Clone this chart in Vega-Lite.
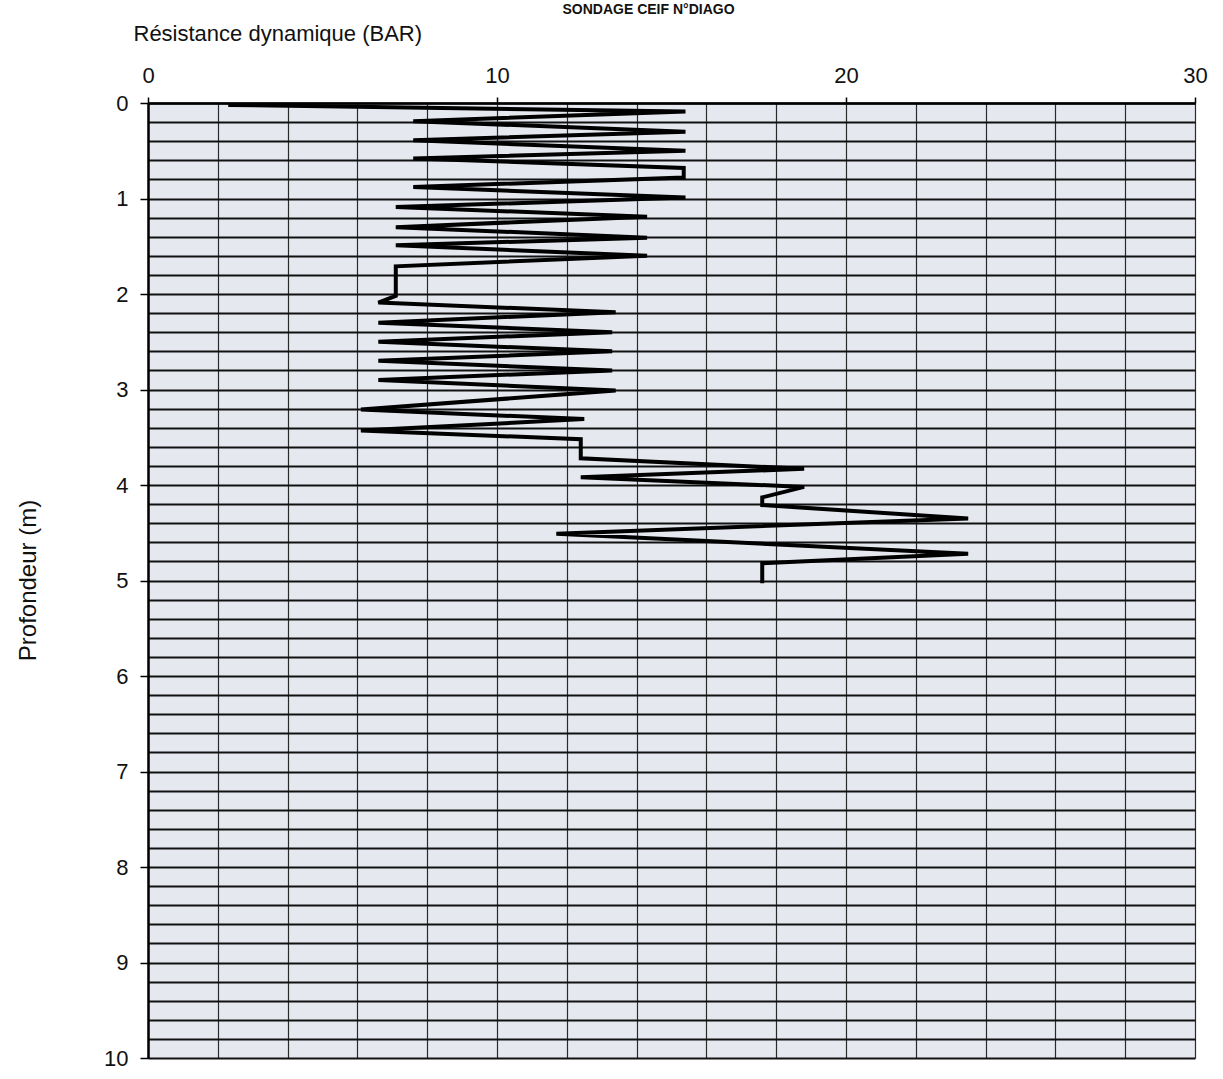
{
  "$schema": "https://vega.github.io/schema/vega-lite/v6.json",
  "width": 1047,
  "height": 955,
  "autosize": {"type": "none"},
  "padding": {"left": 148, "top": 103, "right": 28, "bottom": 21},
  "background": "white",
  "title": {
    "text": "SONDAGE CEIF N°DIAGO",
    "frame": "group",
    "anchor": "middle",
    "offset": 6,
    "baseline": "alphabetic",
    "dx": -23,
    "dy": 12,
    "fontSize": 14,
    "font": "Liberation Sans",
    "fontWeight": "bold",
    "color": "#111"
  },
  "config": {
    "view": {"fill": "#e6e8ef", "stroke": null}
  },
  "data": {
    "values": [
      {"n": 1, "depth": 0.02, "resistance": 2.3},
      {"n": 2, "depth": 0.09, "resistance": 15.4},
      {"n": 3, "depth": 0.19, "resistance": 7.6},
      {"n": 4, "depth": 0.30, "resistance": 15.4},
      {"n": 5, "depth": 0.39, "resistance": 7.6},
      {"n": 6, "depth": 0.50, "resistance": 15.4},
      {"n": 7, "depth": 0.58, "resistance": 7.6},
      {"n": 8, "depth": 0.68, "resistance": 15.35},
      {"n": 9, "depth": 0.78, "resistance": 15.35},
      {"n": 10, "depth": 0.88, "resistance": 7.6},
      {"n": 11, "depth": 0.99, "resistance": 15.4},
      {"n": 12, "depth": 1.09, "resistance": 7.1},
      {"n": 13, "depth": 1.19, "resistance": 14.3},
      {"n": 14, "depth": 1.30, "resistance": 7.1},
      {"n": 15, "depth": 1.41, "resistance": 14.3},
      {"n": 16, "depth": 1.49, "resistance": 7.1},
      {"n": 17, "depth": 1.60, "resistance": 14.3},
      {"n": 18, "depth": 1.71, "resistance": 7.1},
      {"n": 19, "depth": 2.02, "resistance": 7.1},
      {"n": 20, "depth": 2.09, "resistance": 6.6},
      {"n": 21, "depth": 2.19, "resistance": 13.4},
      {"n": 22, "depth": 2.30, "resistance": 6.6},
      {"n": 23, "depth": 2.40, "resistance": 13.3},
      {"n": 24, "depth": 2.50, "resistance": 6.6},
      {"n": 25, "depth": 2.60, "resistance": 13.3},
      {"n": 26, "depth": 2.70, "resistance": 6.6},
      {"n": 27, "depth": 2.80, "resistance": 13.3},
      {"n": 28, "depth": 2.90, "resistance": 6.6},
      {"n": 29, "depth": 3.01, "resistance": 13.4},
      {"n": 30, "depth": 3.21, "resistance": 6.1},
      {"n": 31, "depth": 3.31, "resistance": 12.5},
      {"n": 32, "depth": 3.43, "resistance": 6.1},
      {"n": 33, "depth": 3.52, "resistance": 12.4},
      {"n": 34, "depth": 3.72, "resistance": 12.4},
      {"n": 35, "depth": 3.83, "resistance": 18.8},
      {"n": 36, "depth": 3.92, "resistance": 12.4},
      {"n": 37, "depth": 4.02, "resistance": 18.8},
      {"n": 38, "depth": 4.13, "resistance": 17.6},
      {"n": 39, "depth": 4.21, "resistance": 17.6},
      {"n": 40, "depth": 4.35, "resistance": 23.5},
      {"n": 41, "depth": 4.51, "resistance": 11.7},
      {"n": 42, "depth": 4.72, "resistance": 23.5},
      {"n": 43, "depth": 4.82, "resistance": 17.6},
      {"n": 44, "depth": 5.03, "resistance": 17.6}
    ]
  },
  "mark": {"type": "line", "color": "#000", "strokeWidth": 4, "strokeJoin": "miter", "strokeMiterLimit": 4},
  "encoding": {
    "x": {
      "field": "resistance",
      "type": "quantitative",
      "scale": {"domain": [0, 30], "nice": false, "zero": true},
      "axis": {
        "orient": "top",
        "values": [0, 2, 4, 6, 8, 10, 12, 14, 16, 18, 20, 22, 24, 26, 28, 30],
        "labelExpr": "datum.value % 10 === 0 ? format(datum.value, 'd') : ''",
        "labelFlush": false,
        "labelOverlap": false,
        "labelFont": "Liberation Sans",
        "labelFontSize": 22,
        "labelColor": "#111",
        "labelPadding": 10,
        "tickSize": 6,
        "tickColor": "#000",
        "tickWidth": 1.5,
        "tickOpacity": {"condition": {"test": "datum.value % 10 === 0", "value": 1}, "value": 0},
        "domain": true,
        "domainColor": "#000",
        "domainWidth": 2.5,
        "grid": true,
        "gridColor": "#2a2a2a",
        "gridWidth": 1.2,
        "gridOpacity": 1,
        "title": "Résistance dynamique (BAR)",
        "titleFont": "Liberation Sans",
        "titleFontSize": 22,
        "titleFontWeight": "normal",
        "titleColor": "#111",
        "titleX": -15,
        "titleY": -70,
        "titleAlign": "left",
        "titleBaseline": "middle",
        "titleAngle": 0
      }
    },
    "y": {
      "field": "depth",
      "type": "quantitative",
      "scale": {"domain": [0, 10], "nice": false, "reverse": true, "zero": true},
      "axis": {
        "orient": "left",
        "values": [0, 0.2, 0.4, 0.6, 0.8, 1, 1.2, 1.4, 1.6, 1.8, 2, 2.2, 2.4, 2.6, 2.8, 3, 3.2, 3.4, 3.6, 3.8, 4, 4.2, 4.4, 4.6, 4.8, 5, 5.2, 5.4, 5.6, 5.8, 6, 6.2, 6.4, 6.6, 6.8, 7, 7.2, 7.4, 7.6, 7.8, 8, 8.2, 8.4, 8.6, 8.8, 9, 9.2, 9.4, 9.6, 9.8, 10],
        "labelExpr": "abs(datum.value - round(datum.value)) < 0.001 ? format(datum.value, 'd') : ''",
        "labelFlush": false,
        "labelOverlap": false,
        "labelFont": "Liberation Sans",
        "labelFontSize": 22,
        "labelColor": "#111",
        "labelPadding": 12,
        "tickSize": 8,
        "tickColor": "#000",
        "tickWidth": 1.5,
        "tickOpacity": {"condition": {"test": "abs(datum.value - round(datum.value)) < 0.001", "value": 1}, "value": 0},
        "domain": true,
        "domainColor": "#000",
        "domainWidth": 2.5,
        "grid": true,
        "gridColor": "#111",
        "gridWidth": 1.8,
        "gridOpacity": 1,
        "title": "Profondeur (m)",
        "titleFont": "Liberation Sans",
        "titleFontSize": 24,
        "titleFontWeight": "normal",
        "titleColor": "#111",
        "titleX": -120,
        "titleY": 477,
        "titleAngle": -90,
        "titleAlign": "center",
        "titleBaseline": "middle"
      }
    },
    "order": {"field": "n", "type": "quantitative"}
  }
}
